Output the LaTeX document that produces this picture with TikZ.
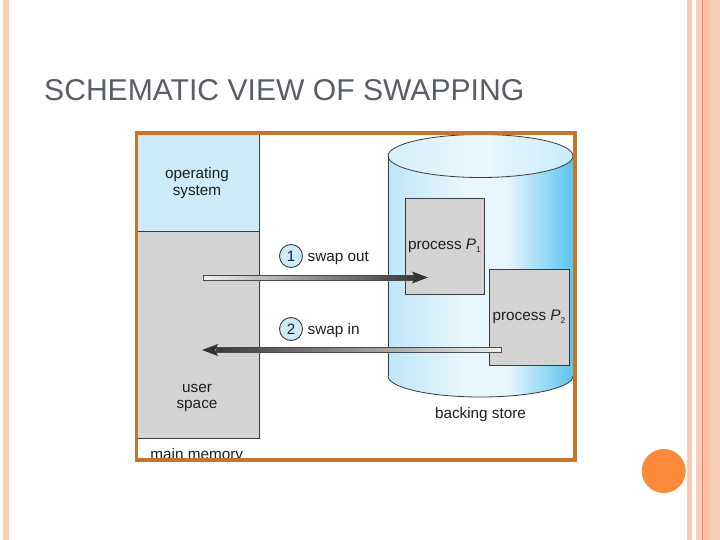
\documentclass[tikz,border=0pt]{standalone}
\usepackage{fontspec}
\setmainfont{Liberation Sans}
\definecolor{stripe}{RGB}{249,204,182}
\definecolor{stripedeep}{RGB}{255,192,163}
\definecolor{stripeline}{RGB}{226,140,100}
\definecolor{titlegray}{RGB}{88,93,102}
\definecolor{framec}{RGB}{196,118,44}
\definecolor{osblue}{RGB}{205,235,249}
\definecolor{boxgray}{RGB}{211,211,211}
\definecolor{edge}{RGB}{60,60,60}
\definecolor{txt}{RGB}{30,30,30}
\definecolor{cylA}{RGB}{190,230,248}
\definecolor{cylB}{RGB}{232,246,253}
\definecolor{cylC}{RGB}{90,196,240}
\definecolor{topA}{RGB}{212,238,250}
\definecolor{topB}{RGB}{236,248,254}
\definecolor{topC}{RGB}{200,235,250}
\definecolor{dotorange}{RGB}{253,138,58}
\pgfdeclarehorizontalshading{cylshade}{100bp}{color(0bp)=(cylA); color(25bp)=(cylA); color(45bp)=(cylB); color(57bp)=(cylB); color(75bp)=(cylC); color(100bp)=(cylC)}
\pgfdeclarehorizontalshading{topshade}{100bp}{color(0bp)=(topA); color(25bp)=(topA); color(50bp)=(topB); color(75bp)=(topC); color(100bp)=(topC)}
\begin{document}
\begin{tikzpicture}[x=1pt,y=-1pt,
  lbl/.style={font=\fontsize{15.3}{16.5}\selectfont, text=txt, inner sep=0pt, align=center},
  memblock/.style={draw=edge, line width=0.8pt, inner sep=0pt},
  pbox/.style={draw=edge, line width=0.8pt, fill=boxgray, inner sep=0pt, font=\fontsize{15.3}{16.5}\selectfont, text=txt, minimum width=79pt, minimum height=96pt},
  stepcircle/.style={circle, draw=edge, line width=0.9pt, fill=osblue, minimum size=23pt, inner sep=0pt, font=\fontsize{15}{16}\selectfont, text=txt},
  shaftline/.style={draw=gray!60!black, line width=0.6pt}
]
\useasboundingbox (0,0) rectangle (720,540);
\fill[white] (0,0) rectangle (720,540);
% slide decorations
\fill[stripe] (3,0) rectangle (9,540);
\fill[stripe] (687,0) rectangle (692,540);
\fill[stripe] (696,0) rectangle (720,540);
\fill[stripedeep] (702.5,0) rectangle (709,540);
\draw[stripeline, line width=1pt] (702.2,0) -- (702.2,540);
\fill[dotorange] (663.7,471) circle (22);
% title
\node[anchor=base west, inner sep=0pt, text=titlegray, font=\fontsize{30.1}{34}\selectfont] (title) at (44,101) {SCHEMATIC VIEW OF SWAPPING};
% main memory
\node[memblock, fill=osblue, minimum width=122pt, minimum height=98pt] (os) at (198,182) {};
\node[memblock, fill=boxgray, minimum width=122pt, minimum height=207pt] (user) at (198,334.5) {};
\node[lbl] (ostext) at (197,183) {operating\\system};
\node[lbl] (usertext) at (197,398) {user\\space};
\node[lbl, anchor=base] (mmtext) at (196.7,459) {main memory};
% backing store cylinder
\shade[shading=cylshade] (388,156) rectangle (573,376);
\shade[shading=cylshade] (480.5,376) ellipse (92.5 and 21);
\shade[shading=topshade, draw=edge, line width=0.8pt] (480.5,156) ellipse (92.5 and 21.5);
\draw[edge, line width=0.8pt] (388,156) -- (388,376);
\draw[edge, line width=0.8pt] (573,156) -- (573,376);
\begin{scope}
\clip (380,376) rectangle (580,402);
\draw[edge, line width=0.8pt] (480.5,376) ellipse (92.5 and 21);
\end{scope}
\node[lbl, anchor=base] (store) at (480.5,418.5) {backing store};
% processes
\node[pbox] (p1) at (444.5,246) {process {\itshape P}\raisebox{-3pt}{\fontsize{8.5}{9}\selectfont 1}};
\node[pbox, minimum width=80pt] (p2) at (529,317) {process {\itshape P}\raisebox{-3pt}{\fontsize{8.5}{9}\selectfont 2}};
% arrow 1: swap out
\coordinate (a1s) at (203,277.5);
\coordinate (a1e) at (428,277.5);
\shade[left color=gray!12, right color=gray!45!black, shaftline] (203,275.2) rectangle (414,279.8);
\fill[edge!85!black] (412,271.5) -- (a1e) -- (412,283.5) -- (415,277.5) -- cycle;
% arrow 2: swap in
\coordinate (a2s) at (501,350);
\coordinate (a2e) at (202,350);
\shade[left color=gray!45!black, right color=gray!12, shaftline] (216,347.7) rectangle (501,352.3);
\fill[edge!85!black] (218,344) -- (a2e) -- (218,356) -- (215,350) -- cycle;
% step labels
\node[stepcircle] (c1) at (291,256) {1};
\node[lbl, anchor=base west] (t1) at (307.5,261.5) {swap out};
\node[stepcircle] (c2) at (291,329) {2};
\node[lbl, anchor=base west] (t2) at (307.5,334.5) {swap in};
% frame
\draw[framec, line width=3.5pt] (136.5,133) rectangle (575,460);
\end{tikzpicture}
\end{document}
